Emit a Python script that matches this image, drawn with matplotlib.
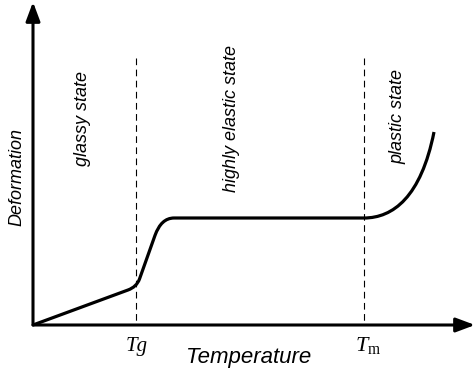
import matplotlib.pyplot as plt
from matplotlib.path import Path
from matplotlib.patches import PathPatch

# Deformation curve (arbitrary units, origin at the
# axes corner); corners are given as Bezier control points
temperature = [0, 95, 103.6, 106.5, 122, 128.2, 141, 331, 360, 388, 401]
deformation = [0, 35.0, 38.1, 46.0, 89.6, 107, 107, 107, 107, 128, 193]
curve_codes = [Path.MOVETO, Path.LINETO, Path.CURVE3, Path.CURVE3,
               Path.LINETO, Path.CURVE3, Path.CURVE3, Path.LINETO,
               Path.CURVE4, Path.CURVE4, Path.CURVE4]

tg, tm = 103, 331          # transition temperatures
line_top = 267             # top of the dashed guides
axis_end_x, axis_end_y = 442, 323

state_labels = ["glassy state", "highly elastic state", "plastic state"]
state_x = [50, 199, 365]
state_y = [207, 206, 209]

plt.rcParams["font.family"] = ["Liberation Sans", "DejaVu Sans"]
plt.rcParams["mathtext.fontset"] = "custom"
plt.rcParams["mathtext.rm"] = "Liberation Serif"
plt.rcParams["mathtext.it"] = "Liberation Serif:italic"

fig = plt.figure(figsize=(4.77, 3.84), dpi=100)
ax = fig.add_axes([0, 0, 1, 1])
ax.set_xlim(-33, 444)
ax.set_ylim(-59, 325)
ax.axis("off")

# axes with arrow heads
arrow = dict(arrowstyle="-|>,head_length=1.15,head_width=0.43",
             mutation_scale=10, lw=2.2, color="black",
             shrinkA=0, shrinkB=0)
ax.annotate("", xy=(axis_end_x, 0), xytext=(0, 0), arrowprops=arrow)
ax.annotate("", xy=(0, axis_end_y), xytext=(0, 0), arrowprops=arrow)

# dashed transition guides, drawn top-down so a dash starts at the top
for t in (tg, tm):
    ax.plot([t, t], [line_top, 0], color="black", lw=0.8,
            dashes=(6.0, 4.0), zorder=1)

curve = Path(list(zip(temperature, deformation)), curve_codes)
ax.add_patch(PathPatch(curve, fill=False, edgecolor="black", lw=2.3,
                       capstyle="butt", joinstyle="round", zorder=3))

for lab, x, y in zip(state_labels, state_x, state_y):
    ax.text(x, y, lab, rotation=90, ha="center", va="center",
            fontsize=13, style="italic")

ax.text(-16, 148, "Deformation", rotation=90, ha="center", va="center",
        fontsize=13, style="italic")
ax.text(216, -32, "Temperature", ha="center", va="center",
        fontsize=16, style="italic")
ax.text(tg + 1, -22, "Tg", ha="center", va="center", fontsize=15,
        family="Liberation Serif", style="italic")
ax.text(tm + 4, -21, r"$T_{\rm m}$", ha="center", va="center", fontsize=16)

fig.savefig("out.png", dpi=100)
